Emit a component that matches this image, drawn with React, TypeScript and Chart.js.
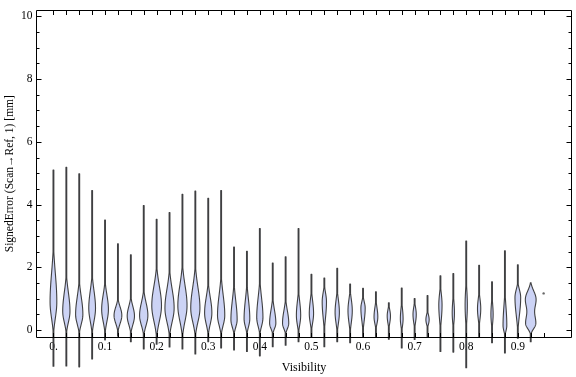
import { useEffect, useRef } from 'react';
import { Chart, registerables } from 'chart.js';

Chart.register(...registerables);

// ---- data -------------------------------------------------------------
const visibility = [
  0, 0.025, 0.05, 0.075, 0.1, 0.125, 0.15, 0.175, 0.2, 0.225,
  0.25, 0.275, 0.3, 0.325, 0.35, 0.375, 0.4, 0.425, 0.45, 0.475,
  0.5, 0.525, 0.55, 0.575, 0.6, 0.625, 0.65, 0.675, 0.7, 0.725,
  0.75, 0.775, 0.8, 0.825, 0.85, 0.875, 0.9, 0.925,
];
const errorMin = [
  -1.15, -1.14, -1.17, -0.92, -0.31, -0.19, -0.37, -0.6, -0.45, -0.54,
  -0.6, -0.76, -0.37, -0.57, -0.63, -0.68, -0.82, -0.53, -0.48, -0.37,
  -0.23, -0.53, -0.37, -0.4, -0.2, -0.2, -0.29, -0.57, -0.3, -0.2,
  -0.68, -0.7, -1.2, -0.2, -0.4, -0.73, -0.26, -0.37,
];
const errorMax = [
  5.1, 5.19, 4.98, 4.45, 3.51, 2.75, 2.4, 3.97, 3.53, 3.75,
  4.33, 4.43, 4.2, 4.45, 2.65, 2.51, 3.24, 2.14, 2.34, 3.24,
  1.78, 1.66, 1.97, 1.47, 1.33, 1.22, 0.87, 1.34, 1.01, 1.1,
  1.73, 1.8, 2.84, 2.07, 1.54, 2.53, 2.08, 1.51,
];
const errorMode = [
  0.9, 0.6, 0.5, 0.7, 0.66, 0.47, 0.45, 0.47, 0.78, 0.7,
  0.78, 0.7, 0.55, 0.47, 0.33, 0.36, 0.4, 0.22, 0.22, 0.47,
  0.53, 0.9, 0.57, 0.62, 0.7, 0.42, 0.45, 0.36, 0.5, 0.33,
  0.8, 0.55, 0.8, 0.68, 0.5, 0.15, 1.04, 0.99,
];
const peakDensity = [
  0.6, 0.64, 0.64, 0.6, 0.6, 0.68, 0.64, 0.72, 0.83, 0.79,
  0.79, 0.79, 0.64, 0.64, 0.56, 0.52, 0.56, 0.56, 0.56, 0.41,
  0.41, 0.41, 0.41, 0.41, 0.41, 0.37, 0.33, 0.29, 0.33, 0.33,
  0.33, 0.25, 0.25, 0.33, 0.25, 0.37, 0.52, 0.89,
];
const spreadUp = [
  0.93, 0.61, 0.56, 0.56, 0.47, 0.27, 0.31, 0.41, 0.62, 0.61,
  0.65, 0.67, 0.5, 0.66, 0.62, 0.61, 0.64, 0.43, 0.41, 0.46,
  0.43, 0.31, 0.41, 0.38, 0.22, 0.32, 0.22, 0.36, 0.25, 0.18,
  0.39, 0.42, 0.56, 0.34, 0.39, 0.64, 0.26, 0.26,
];
const spreadDown = [
  0.53, 0.36, 0.31, 0.42, 0.39, 0.26, 0.28, 0.32, 0.49, 0.44,
  0.49, 0.44, 0.36, 0.32, 0.24, 0.26, 0.28, 0.18, 0.18, 0.32,
  0.32, 0.53, 0.37, 0.4, 0.42, 0.23, 0.25, 0.26, 0.28, 0.16,
  0.5, 0.36, 0.56, 0.35, 0.33, 0.19, 0.58, 0.285,
];
// secondary modes (bimodal distributions)
const secondIndex = [37];
const secondMode = [0.21];
const secondDensity = [0.85];
const secondSpreadUp = [0.285];
const secondSpreadDown = [0.17];
// single-sample group
const singleVisibility = [0.95];
const singleError = [1.17];

const xTickValues = [0, 0.1, 0.2, 0.3, 0.4, 0.5, 0.6, 0.7, 0.8, 0.9];
const xTickLabels = ['0.', '0.1', '0.2', '0.3', '0.4', '0.5', '0.6', '0.7', '0.8', '0.9'];
const yTickValues = [0, 2, 4, 6, 8, 10];
const yTickLabels = ['0', '2', '4', '6', '8', '10'];
const groupStep = 0.025;

const SERIF = "'Liberation Serif', 'Times New Roman', serif";

function halfGauss(v: number, m: number, up: number, down: number) {
  const s = v >= m ? up : down;
  const z = (v - m) / s;
  return Math.exp(-0.5 * z * z);
}

const violinPlugin = {
  id: 'violins',
  afterDatasetsDraw(chart: any) {
    const { ctx, scales } = chart;
    const xs = scales.x;
    const ys = scales.y;
    const slotHalf = (xs.getPixelForValue(groupStep) - xs.getPixelForValue(0)) / 2;
    ctx.save();
    for (let i = 0; i < visibility.length; i++) {
      const cx = xs.getPixelForValue(visibility[i]);
      const lo = errorMin[i];
      const hi = errorMax[i];
      const n = 200;
      const pts: { py: number; hw: number }[] = [];
      const k = secondIndex.indexOf(i);
      for (let j = 0; j <= n; j++) {
        const v = lo + ((hi - lo) * j) / n;
        let d = peakDensity[i] * halfGauss(v, errorMode[i], spreadUp[i], spreadDown[i]);
        if (k >= 0) {
          d += secondDensity[k] * halfGauss(v, secondMode[k], secondSpreadUp[k], secondSpreadDown[k]);
        }
        const hw = Math.max(d * slotHalf - 0.5, 0.4);
        pts.push({ py: ys.getPixelForValue(v), hw });
      }
      ctx.beginPath();
      ctx.moveTo(cx, pts[0].py);
      for (const p of pts) ctx.lineTo(cx - p.hw, p.py);
      ctx.lineTo(cx, pts[pts.length - 1].py);
      for (let j = pts.length - 1; j >= 0; j--) ctx.lineTo(cx + pts[j].hw, pts[j].py);
      ctx.closePath();
      ctx.fillStyle = 'rgb(204,211,245)';
      ctx.fill();
      ctx.lineWidth = 1.1;
      ctx.strokeStyle = 'rgba(45,45,45,0.9)';
      ctx.lineJoin = 'round';
      ctx.stroke();
    }
    ctx.restore();
  },
};

const framePlugin = {
  id: 'frame',
  afterDraw(chart: any) {
    const { ctx, chartArea, scales } = chart;
    const xs = scales.x;
    const ys = scales.y;
    const L = Math.round(chartArea.left) + 0.5;
    const R = Math.round(chartArea.right) - 0.5;
    const T = Math.round(chartArea.top) + 0.5;
    const B = Math.round(chartArea.bottom) + 0.5;
    ctx.save();
    ctx.strokeStyle = '#000';
    ctx.lineWidth = 1;
    ctx.beginPath();
    ctx.moveTo(L, T);
    ctx.lineTo(R, T);
    ctx.lineTo(R, B);
    ctx.lineTo(L, B);
    ctx.closePath();
    ctx.stroke();
    ctx.beginPath();
    // y ticks: majors + minors every 0.5
    for (let v = 0; v <= 10.0001; v += 0.5) {
      const major = yTickValues.some((t) => Math.abs(t - v) < 1e-6);
      const len = major ? 5 : 3;
      const py = Math.round(ys.getPixelForValue(v)) + 0.5;
      ctx.moveTo(L, py);
      ctx.lineTo(L + len, py);
      ctx.moveTo(R, py);
      ctx.lineTo(R - len, py);
    }
    // x ticks at each group
    const groups = visibility.concat(singleVisibility);
    for (const v of groups) {
      const px = Math.round(xs.getPixelForValue(v)) + 0.5;
      ctx.moveTo(px, B);
      ctx.lineTo(px, B - 4.5);
      ctx.moveTo(px, T);
      ctx.lineTo(px, T + 4.5);
    }
    ctx.stroke();
    ctx.restore();
  },
};

export default function App() {
  const ref = useRef<HTMLCanvasElement | null>(null);
  useEffect(() => {
    if (!ref.current) return;
    const chart = new Chart(ref.current, {
      type: 'scatter',
      data: {
        datasets: [
          {
            label: 'single',
            data: singleVisibility.map((v, i) => ({ x: v, y: singleError[i] })),
            pointRadius: 1.2,
            pointBackgroundColor: '#666',
            pointBorderWidth: 0,
          },
        ],
      },
      options: {
        animation: false,
        responsive: false,
        devicePixelRatio: 1,
        layout: { padding: { left: 0, top: 5, right: 2, bottom: 0 } },
        plugins: { legend: { display: false }, tooltip: { enabled: false } },
        scales: {
          x: {
            type: 'linear',
            min: -0.0338,
            max: 1.005,
            grid: { display: false, drawTicks: false },
            border: { display: false },
            afterBuildTicks: (s: any) => {
              s.ticks = xTickValues.map((v) => ({ value: v }));
            },
            afterFit: (s: any) => {
              s.height = 40;
            },
            ticks: {
              autoSkip: false,
              maxRotation: 0,
              padding: 3,
              color: '#000',
              font: { family: SERIF, size: 11.5 },
              callback: (_v: any, i: number) => xTickLabels[i],
            },
            title: {
              display: true,
              text: 'Visibility',
              color: '#000',
              font: { family: SERIF, size: 12 },
              padding: { top: 0, bottom: 1.5 },
            },
          },
          y: {
            type: 'linear',
            min: -0.219,
            max: 10.19,
            grid: { display: false, drawTicks: false },
            border: { display: false },
            afterBuildTicks: (s: any) => {
              s.ticks = yTickValues.map((v) => ({ value: v }));
            },
            afterFit: (s: any) => {
              s.width = 36;
            },
            ticks: {
              padding: 3.5,
              color: '#000',
              font: { family: SERIF, size: 11.5 },
              callback: (_v: any, i: number) => yTickLabels[i],
            },
            title: {
              display: true,
              text: 'SignedError (Scan\u2192Ref, 1) [mm]',
              color: '#000',
              font: { family: SERIF, size: 11.5 },
              padding: { top: 3, bottom: 0 },
            },
          },
        },
      },
      plugins: [violinPlugin, framePlugin],
    });
    return () => chart.destroy();
  }, []);
  return (
    <div style={{ position: 'fixed', left: 0, top: 0, width: 576, height: 377, background: '#fff' }}>
      <canvas ref={ref} width={576} height={377} style={{ width: 576, height: 377 }} />
    </div>
  );
}
